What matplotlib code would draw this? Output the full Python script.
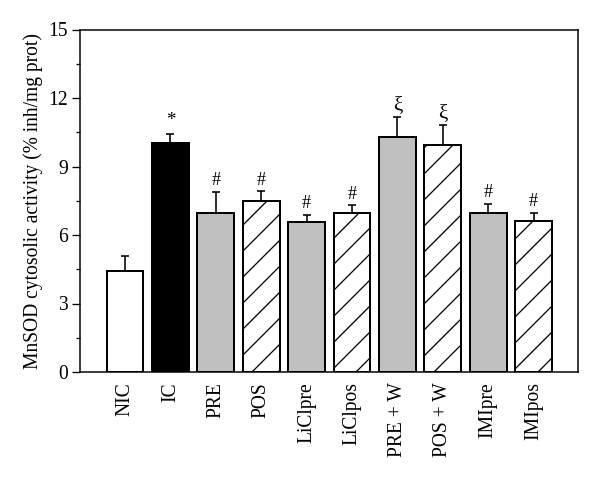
import matplotlib
matplotlib.use("Agg")
import matplotlib.pyplot as plt
import numpy as np

categories = ["NIC", "IC", "PRE", "POS", "LiClpre", "LiClpos", "PRE + W", "POS + W", "IMIpre", "IMIpos"]
values = [4.44, 10.04, 6.96, 7.49, 6.58, 6.95, 10.28, 9.94, 6.96, 6.60]
errors = [0.64, 0.37, 0.92, 0.42, 0.31, 0.35, 0.88, 0.87, 0.39, 0.36]
marks = ["", "*", "#", "#", "#", "#", "\u03be", "\u03be", "#", "#"]
fills = ["white", "black", "#c0c0c0", "white", "#c0c0c0", "white", "#c0c0c0", "white", "#c0c0c0", "white"]
hatches = ["", "", "", "/", "", "/", "", "/", "", "/"]
yticks = [0, 3, 6, 9, 12, 15]

DPI = 78
def pt(px):
    return px * 72.0 / DPI

plt.rcParams['font.family'] = ['Liberation Serif', 'DejaVu Serif']
plt.rcParams['hatch.linewidth'] = pt(1.3)

fig = plt.figure(figsize=(600 / DPI, 482 / DPI), dpi=DPI)
ax = fig.add_axes([80 / 600, 1 - 372 / 482, 498 / 600, (372 - 29.5) / 482])

x = np.arange(len(categories))
for i in x:
    ax.bar(i, values[i], width=0.81, color=fills[i], edgecolor="black",
           linewidth=pt(2), hatch=hatches[i], zorder=2)
ax.errorbar(x, values, yerr=[np.zeros(len(errors)), errors], fmt="none",
            ecolor="black", elinewidth=pt(1.6), capsize=pt(4), capthick=pt(1.6), zorder=3)

sizes = {"*": 19, "#": 18, "\u03be": 21}
offs = {"*": 0.25, "#": 0.12, "\u03be": 0.08}
for i in x:
    m = marks[i]
    if m:
        top = values[i] + errors[i]
        ax.text(i, top + offs[m], m, ha="center", va="bottom",
                fontsize=pt(sizes[m]), color="black")

ax.set_xlim(-0.99, 9.98)
ax.set_ylim(0, 15)
ax.set_yticks(yticks)
ax.set_yticks(np.arange(1.5, 15, 3), minor=True)
ax.set_xticks(x)
ax.set_xticklabels(categories, rotation=90, fontsize=pt(19.5))
ax.tick_params(axis="x", length=0, pad=pt(10))
ax.tick_params(axis="y", which="major", length=pt(8), width=pt(1.3), labelsize=pt(19.5), pad=pt(4), direction="out")
ax.tick_params(axis="y", which="minor", length=pt(4), width=pt(1.3), direction="out")
for s in ax.spines.values():
    s.set_linewidth(pt(1.5))
ax.set_ylabel("MnSOD cytosolic activity (% inh/mg prot)", fontsize=pt(19.5), labelpad=pt(5))

fig.savefig("out.png", dpi=DPI)
